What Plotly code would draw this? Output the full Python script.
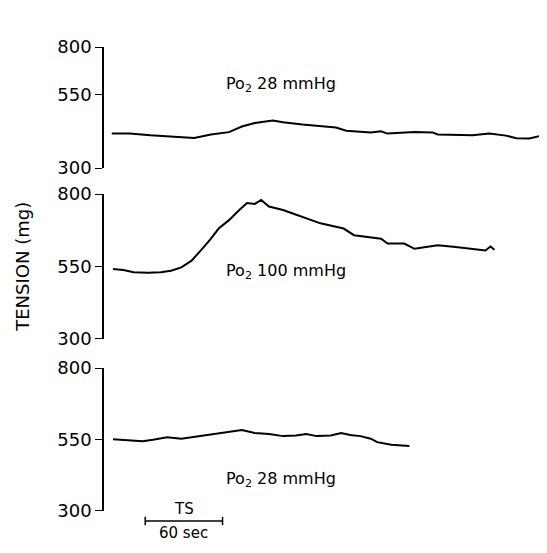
import plotly.graph_objects as go

# ---- data (time in s, tension in mg) ----
t1 = [0, 14, 30, 43, 64, 77, 91, 101, 111, 125, 133, 148, 164, 174, 182, 201, 209, 214, 235, 249, 253, 280, 293, 306, 314, 324, 332, 343]
v1 = [418, 418, 412, 408, 403, 415, 423, 442, 454, 463, 457, 449, 443, 439, 428, 422, 426, 418, 423, 422, 415, 412, 418, 411, 402, 401, 409, 413]

t2 = [1, 9, 17, 28, 38, 46, 54, 62, 69, 77, 83, 91, 99, 105, 111, 116, 122, 133, 140, 148, 162, 174, 180, 188, 201, 209, 214, 227, 235, 253, 267, 280, 290, 294, 297]
v2 = [541, 538, 530, 528, 530, 535, 547, 570, 605, 646, 681, 710, 745, 769, 766, 780, 757, 745, 734, 722, 699, 687, 681, 658, 652, 646, 629, 629, 611, 623, 617, 611, 605, 619, 608]

t3 = [1, 17, 24, 32, 43, 54, 64, 75, 85, 95, 101, 111, 122, 133, 143, 151, 159, 170, 178, 185, 193, 201, 206, 217, 227, 231]
v3 = [551, 547, 544, 549, 558, 553, 559, 566, 573, 580, 583, 573, 569, 562, 564, 569, 562, 564, 573, 566, 562, 553, 541, 532, 530, 527]

# top panel's drawn axis is shortened: its "800" mark sits where 714 mg would be
top_tick_vals = [300, 550, 714]
tick_vals = [300, 550, 800]
tick_text = ["300", "550", "800"]
labels = ["Po<sub>2</sub> 28 mmHg", "Po<sub>2</sub> 100 mmHg", "Po<sub>2</sub> 28 mmHg"]
label_t = [131, 135, 131]
label_v = [586, 531, 410]
scale_bar = [26, 86]  # seconds (60 s)

FONT = "DejaVu Sans"

fig = go.Figure()
for i, (t, v) in enumerate([(t1, v1), (t2, v2), (t3, v3)]):
    sfx = "" if i == 0 else str(i + 1)
    fig.add_trace(go.Scatter(x=t, y=v, mode="lines", xaxis="x" + sfx, yaxis="y" + sfx,
                             line=dict(color="black", width=2), showlegend=False,
                             hoverinfo="skip"))

domains = [[0.739, 1.0], [0.371, 0.683], [0.0, 0.308]]
ranges = [[300, 714], [300, 800], [300, 800]]
tvals = [top_tick_vals, tick_vals, tick_vals]
layout = dict(width=547, height=553, margin=dict(l=96, r=0, t=39, b=50),
              plot_bgcolor="white", paper_bgcolor="white",
              font=dict(family=FONT, color="black"))
for i in range(3):
    sfx = "" if i == 0 else str(i + 1)
    layout["xaxis" + sfx] = dict(domain=[0, 1], range=[-6, 344], visible=False,
                                 anchor="y" + sfx)
    layout["yaxis" + sfx] = dict(domain=domains[i], range=ranges[i], anchor="x" + sfx,
                                 tickvals=tvals[i], ticktext=tick_text,
                                 showline=True, linecolor="black", linewidth=1.6,
                                 ticks="outside", ticklen=7, tickwidth=1.4, tickcolor="black",
                                 showgrid=False, zeroline=False,
                                 tickfont=dict(family=FONT, size=18, color="black"))
fig.update_layout(**layout)

for i in range(3):
    sfx = "" if i == 0 else str(i + 1)
    fig.add_annotation(x=label_t[i], y=label_v[i], xref="x" + sfx, yref="y" + sfx,
                       text=labels[i], showarrow=False, xanchor="center", yanchor="middle",
                       font=dict(family=FONT, size=16, color="black"))

fig.add_annotation(x=-0.18, y=0.526, xref="paper", yref="paper", text="TENSION (mg)",
                   textangle=-90, showarrow=False, xanchor="center", yanchor="middle",
                   font=dict(family=FONT, size=18, color="black"))

# scale bar
yb = -0.0216
fig.add_shape(type="line", xref="x3", yref="paper", x0=scale_bar[0], x1=scale_bar[1],
              y0=yb, y1=yb, line=dict(color="black", width=1.5))
for xs in scale_bar:
    fig.add_shape(type="line", xref="x3", yref="paper", x0=xs, x1=xs,
                  y0=yb - 0.009, y1=yb + 0.009, line=dict(color="black", width=1.5))
mid = (scale_bar[0] + scale_bar[1]) / 2
fig.add_annotation(x=mid, y=yb, xref="x3", yref="paper", text="TS", yanchor="bottom",
                   yshift=1, showarrow=False, font=dict(family=FONT, size=15, color="black"))
fig.add_annotation(x=mid, y=yb, xref="x3", yref="paper", text="60 sec", yanchor="top",
                   yshift=-1, showarrow=False, font=dict(family=FONT, size=15, color="black"))

fig.write_html("out.html")
